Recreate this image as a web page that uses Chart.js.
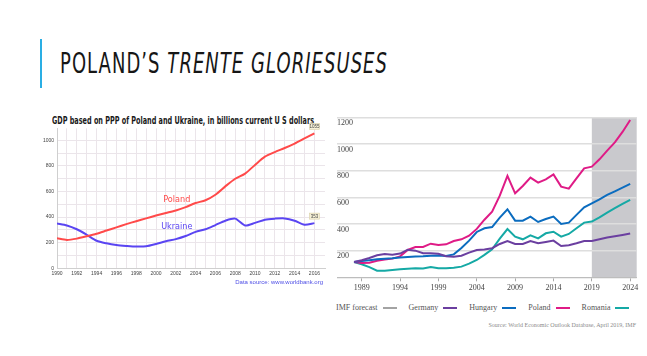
<!DOCTYPE html>
<html>
<head>
<meta charset="utf-8">
<script src="https://cdn.jsdelivr.net/npm/chart.js@4.4.1/dist/chart.umd.min.js"></script>
<style>
  body { margin: 0; width: 647px; height: 356px; background: #fff; position: relative; overflow: hidden; }
  .abs { position: absolute; white-space: nowrap; }
  .narrow { font-family: "Liberation Sans Narrow", "DejaVu Sans Condensed", "Arial Narrow", sans-serif; }
  .serif { font-family: "Liberation Serif", "DejaVu Serif", serif; }
  #accent { position: absolute; left: 40px; top: 39px; width: 2px; height: 49px; background: #2aaee4; }
  #title { left: 60px; top: 49.6px; font-size: 28px; line-height: 28px; color: #161616; letter-spacing: 1.5px; transform-origin: 0 0; }
  #leftTitle { left: 52px; top: 115.5px; font-size: 10px; line-height: 10px; font-weight: bold; color: #1a1a1a; transform-origin: 0 0; }
  #wbSource { right: 324px; top: 278.5px; font-size: 6px; line-height: 6px; color: #4f4fe6; font-family: "Liberation Sans", sans-serif; }
  #leftWrap { position: absolute; left: 40px; top: 110px; width: 290px; height: 180px; }
  #rightWrap { position: absolute; left: 333px; top: 100px; width: 312px; height: 200px; }
  #legend { left: 336px; top: 302.7px; height: 10px; line-height: 10px; font-size: 8px; color: #555; display: flex; align-items: center; }
  #legend .item { display: flex; align-items: center; margin-right: 12px; }
  #legend .sw { display: inline-block; width: 14px; height: 2px; margin-left: 5px; }
  #imfSource { right: 11px; top: 321px; font-size: 6px; line-height: 8px; color: #8a8a8a; }
</style>
</head>
<body>
<div id="accent"></div>
<div id="title" class="abs narrow">POLAND’S <i>TRENTE GLORIESUSES</i></div>

<div id="leftTitle" class="abs narrow">GDP based on PPP of Poland and Ukraine, in billions current U S dollars</div>
<div id="leftWrap"><canvas id="leftChart" width="290" height="180"></canvas></div>
<div id="wbSource" class="abs">Data source: www.worldbank.org</div>

<div id="rightWrap"><canvas id="rightChart" width="312" height="200"></canvas></div>
<div id="legend" class="abs serif"></div>
<div id="imfSource" class="abs serif">Source: World Economic Outlook Database, April 2019, IMF</div>

<script>
// left chart: World Bank PPP GDP, billions
const wbYears = [1990, 1991, 1992, 1993, 1994, 1995, 1996, 1997, 1998, 1999, 2000, 2001, 2002, 2003,
    2004, 2005, 2006, 2007, 2008, 2009, 2010, 2011, 2012, 2013, 2014, 2015, 2016];
const polandPPP = [235, 222, 232, 250, 270, 295, 320, 345, 368, 390, 412, 432, 452, 478,
    510, 532, 575, 640, 700, 740, 808, 872, 908, 940, 975, 1015, 1055];
const ukrainePPP = [350, 335, 305, 262, 215, 195, 182, 175, 170, 172, 190, 212, 228, 252,
    285, 305, 338, 372, 388, 335, 355, 380, 388, 390, 372, 340, 353];
const leftYTicks = [0, 100, 200, 300, 400, 500, 600, 700, 800, 900, 1000];

// right chart: IMF WEO, GDP index
const weoYears = [1988, 1989, 1990, 1991, 1992, 1993, 1994, 1995, 1996, 1997, 1998, 1999, 2000,
    2001, 2002, 2003, 2004, 2005, 2006, 2007, 2008, 2009, 2010, 2011, 2012, 2013, 2014, 2015,
    2016, 2017, 2018, 2019, 2020, 2021, 2022, 2023, 2024];
const germany = [115, 128, 145, 165, 175, 170, 178, 207, 200, 180, 180, 177, 158,
    155, 162, 185, 205, 208, 218, 250, 272, 250, 250, 272, 255, 265, 275, 235,
    240, 255, 272, 272, 285, 298, 308, 318, 328];
const hungary = [115, 122, 128, 135, 140, 143, 148, 153, 156, 158, 162, 163, 160,
    172, 220, 275, 340, 368, 377, 447, 510, 425, 425, 455, 415, 437, 455, 400,
    410, 468, 525, 555, 585, 618, 645, 672, 700];
const poland = [115, 108, 110, 124, 133, 140, 157, 205, 227, 228, 252, 243, 247,
    272, 285, 312, 363, 432, 492, 612, 760, 630, 685, 748, 710, 735, 772, 680,
    665, 742, 817, 830, 885, 950, 1012, 1090, 1180];
const romania = [115, 98, 76, 50, 50, 55, 60, 65, 68, 66, 78, 68, 68,
    72, 80, 102, 130, 168, 210, 290, 362, 305, 285, 315, 292, 330, 342, 305,
    325, 368, 410, 418, 450, 485, 518, 550, 580];
const seriesNames = ['Germany', 'Hungary', 'Poland', 'Romania'];
const forecastStart = 2019;
const rightXTicks = [1989, 1994, 1999, 2004, 2009, 2014, 2019, 2024];
const rightYTicks = [0, 200, 400, 600, 800, 1000, 1200];

const NARROW = '"Liberation Sans Narrow", "DejaVu Sans Condensed", sans-serif';
const SERIF = '"Liberation Serif", "DejaVu Serif", serif';
const colors = ['#6b3fa0', '#0b6cbf', '#df1b86', '#15a9a5'];
const forecastColor = '#a3a3a3';

function fitWidth(id, w) {
    const el = document.getElementById(id);
    const cur = el.getBoundingClientRect().width;
    el.style.transform = 'scaleX(' + (w / cur) + ')';
}
fitWidth('title', 328);
fitWidth('leftTitle', 262);

// ---- left chart
const wbLabels = {
    id: 'wbLabels',
    afterDatasetsDraw(chart) {
        const { ctx } = chart;
        const xs = chart.scales.x, ys = chart.scales.y;
        ctx.save();
        ctx.font = '9px ' + NARROW;
        ctx.textAlign = 'center';
        ctx.textBaseline = 'middle';
        ctx.fillStyle = '#ff4a4a';
        ctx.fillText('Poland', xs.getPixelForValue(2002.1), ys.getPixelForValue(540));
        ctx.fillStyle = '#5a45f2';
        ctx.fillText('Ukraine', xs.getPixelForValue(2002.1), ys.getPixelForValue(325));

        // value badges at the last point
        ctx.font = '4.5px "Liberation Sans", sans-serif';
        [polandPPP, ukrainePPP].forEach(arr => {
            const i = arr.length - 1;
            const px = xs.getPixelForValue(wbYears[i]);
            const py = ys.getPixelForValue(arr[i]) - 7;
            ctx.fillStyle = '#f6f1d8';
            ctx.strokeStyle = '#d9cfa6';
            ctx.lineWidth = 0.6;
            ctx.fillRect(px - 5, py - 3, 10, 6);
            ctx.strokeRect(px - 5, py - 3, 10, 6);
            ctx.fillStyle = '#444';
            ctx.fillText(String(arr[i]), px, py + 0.3);
        });
        ctx.restore();
    }
};

new Chart(document.getElementById('leftChart'), {
    type: 'line',
    data: {
        datasets: [
            { label: 'Poland', data: wbYears.map((y, i) => ({ x: y, y: polandPPP[i] })),
              borderColor: '#ff4a4a', borderWidth: 2, pointRadius: 0, tension: 0.25 },
            { label: 'Ukraine', data: wbYears.map((y, i) => ({ x: y, y: ukrainePPP[i] })),
              borderColor: '#5a45f2', borderWidth: 2, pointRadius: 0, tension: 0.25 },
        ]
    },
    options: {
        responsive: false,
        animation: false,
        layout: { padding: { top: 18.3, right: 5, left: 0, bottom: 0 } },
        plugins: { legend: { display: false }, tooltip: { enabled: false } },
        scales: {
            x: {
                type: 'linear', min: 1990, max: 2017.07,
                afterBuildTicks: s => { s.ticks = wbYears.map(v => ({ value: v })); },
                afterFit: s => { s.height = 21.7; },
                grid: { color: '#ebe5ea', drawTicks: false },
                border: { color: '#cfcfcf' },
                ticks: {
                    callback: v => (v % 2 === 0 ? String(v) : ''),
                    font: { size: 5, family: '"Liberation Sans", sans-serif' },
                    color: '#444', maxRotation: 0, autoSkip: false, padding: 2.5
                }
            },
            y: {
                min: 0, max: 1094,
                afterBuildTicks: s => { s.ticks = leftYTicks.map(v => ({ value: v })); },
                afterFit: s => { s.width = 17; },
                grid: { color: '#ebe5ea', drawTicks: false },
                border: { color: '#cfcfcf' },
                ticks: {
                    callback: v => (v % 200 === 0 ? String(v) : ''),
                    font: { size: 5, family: '"Liberation Sans", sans-serif' },
                    color: '#444', padding: 3, autoSkip: false
                }
            }
        }
    },
    plugins: [wbLabels]
});

// ---- right chart
const forecastShade = {
    id: 'forecastShade',
    beforeDraw(chart) {
        const { ctx, chartArea: a } = chart;
        const left = chart.scales.x.getPixelForValue(forecastStart);
        ctx.save();
        ctx.fillStyle = '#c9c9cd';
        ctx.fillRect(left, a.top, a.right - left, a.bottom - a.top);
        ctx.restore();
    }
};

const rightSeries = [germany, hungary, poland, romania];

new Chart(document.getElementById('rightChart'), {
    type: 'line',
    data: {
        datasets: rightSeries.map((arr, k) => ({
            label: seriesNames[k],
            data: weoYears.map((y, i) => ({ x: y, y: arr[i] })),
            borderColor: colors[k],
            borderWidth: 2,
            pointRadius: 0,
            tension: 0
        }))
    },
    options: {
        responsive: false,
        animation: false,
        layout: { padding: { top: 17.3, right: 8.3, left: 0, bottom: 0 } },
        plugins: { legend: { display: false }, tooltip: { enabled: false } },
        scales: {
            x: {
                type: 'linear', min: 1985.78, max: 2024.85,
                afterBuildTicks: s => { s.ticks = rightXTicks.map(v => ({ value: v })); },
                afterFit: s => { s.height = 22.7; },
                grid: { drawOnChartArea: false, drawTicks: true, tickLength: 4, color: '#a8a8a8' },
                border: { color: '#bdbdbd', width: 1 },
                ticks: {
                    callback: v => String(v),
                    font: { size: 8, family: SERIF },
                    color: '#444', maxRotation: 0, autoSkip: false, padding: 2
                }
            },
            y: {
                min: 0, max: 1200,
                afterBuildTicks: s => { s.ticks = rightYTicks.map(v => ({ value: v })); },
                afterFit: s => { s.width = 4; },
                grid: { color: '#dedede', lineWidth: 1.5, drawTicks: false },
                border: { display: false },
                ticks: {
                    mirror: true, padding: 0, labelOffset: 5.5,
                    callback: v => (v === 0 ? '' : String(v)),
                    font: { size: 8, family: SERIF },
                    color: '#444', autoSkip: false
                }
            }
        }
    },
    plugins: [forecastShade]
});

// legend: label first, then the line swatch
const legend = document.getElementById('legend');
const legendItems = [['IMF forecast', forecastColor]].concat(seriesNames.map((n, k) => [n, colors[k]]));
legendItems.forEach(([name, col]) => {
    const item = document.createElement('span');
    item.className = 'item';
    item.textContent = name;
    const sw = document.createElement('span');
    sw.className = 'sw';
    sw.style.background = col;
    item.appendChild(sw);
    legend.appendChild(item);
});
</script>
</body>
</html>
